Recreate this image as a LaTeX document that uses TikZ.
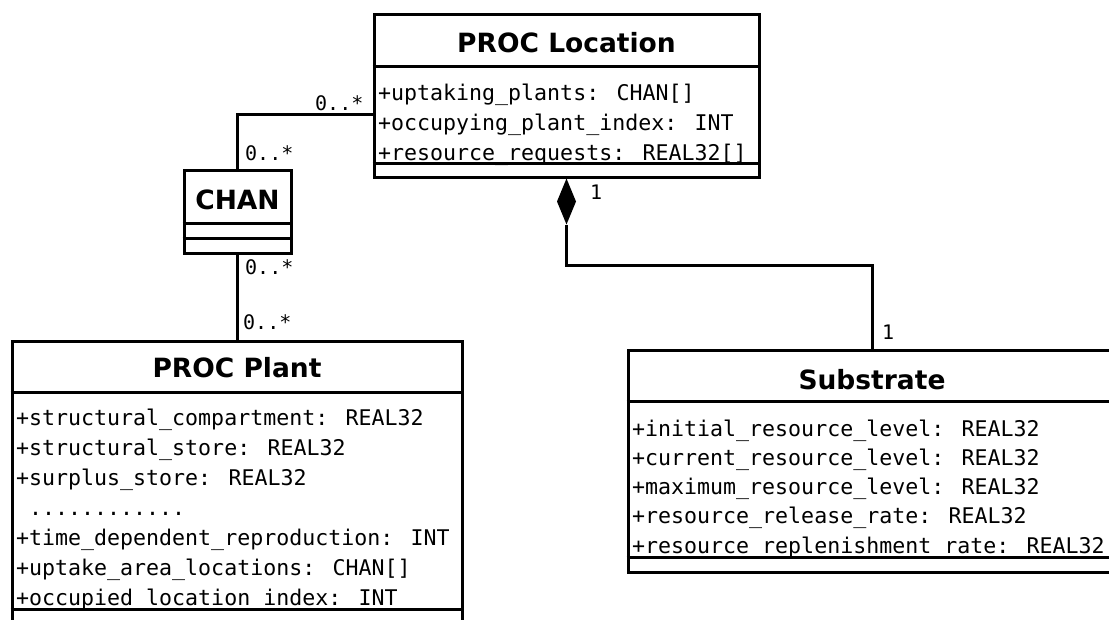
\documentclass[tikz,border=0pt]{standalone}
\usepackage{fontspec}
\usetikzlibrary{positioning, shapes.geometric}
\newfontfamily\umlsans{DejaVu Sans}
\newfontfamily\umlmono{DejaVu Sans Mono}
\tikzset{
  classbox/.style={draw, line width=3pt, inner sep=0pt},
  classline/.style={line width=3pt},
  classname/.style={font=\umlsans\bfseries\fontsize{26.5}{30}\selectfont, inner sep=0pt},
  attr/.style={font=\umlmono\fontsize{21.6}{30}\selectfont, anchor=base west, inner sep=0pt},
  mult/.style={font=\umlmono\fontsize{20}{24}\selectfont, anchor=base west, inner sep=0pt},
  composition/.style={diamond, fill, inner sep=0pt, outer sep=0pt, minimum width=19, minimum height=46},
}

\begin{document}
\begin{tikzpicture}[x=1pt, y=-1pt]
\useasboundingbox (0,0) rectangle (1109,619);
\clip (0,0) rectangle (1109,619);
% Draw PROC Location class
\node[classbox, minimum width=385, minimum height=163] (loc) at (566.5,95.5) {};
\node[classname] (locname) at (566.5,42.5) {PROC Location};
\draw[classline] (loc.west |- 0,66) -- (loc.east |- 0,66);
\draw[classline] (loc.west |- 0,163) -- (loc.east |- 0,163);
\node[attr] (locattra) at (378,100) {+uptaking\_plants: CHAN[]};
\node[attr] (locattrb) at (378,130) {+occupying\_plant\_index: INT};
\node[attr] (locattrc) at (378,160) {+resource\_requests: REAL32[]};
% Draw CHAN class
\node[classbox, minimum width=107, minimum height=83] (chan) at (237.5,211.5) {};
\node[classname] (channame) at (237.5,200) {CHAN};
\draw[classline] (chan.west |- 0,223) -- (chan.east |- 0,223);
\draw[classline] (chan.west |- 0,238) -- (chan.east |- 0,238);
% Draw PROC Plant class
\node[classbox, minimum width=450, minimum height=282] (plant) at (237,482) {};
\node[classname] (plantname) at (237,368) {PROC Plant};
\draw[classline] (plant.west |- 0,392) -- (plant.east |- 0,392);
\draw[classline] (plant.west |- 0,609) -- (plant.east |- 0,609);
\node[attr] (plantattra) at (16,425) {+structural\_compartment: REAL32};
\node[attr] (plantattrb) at (16,455) {+structural\_store: REAL32};
\node[attr] (plantattrc) at (16,485) {+surplus\_store: REAL32};
\node[attr] (plantdots) at (16,515) {\ ............};
\node[attr] (plantattrd) at (16,545) {+time\_dependent\_reproduction: INT};
\node[attr] (plantattre) at (16,575) {+uptake\_area\_locations: CHAN[]};
\node[attr] (plantattrf) at (16,605) {+occupied\_location\_index: INT};
% Draw Substrate class
\node[classbox, minimum width=488, minimum height=222] (subs) at (872,461) {};
\node[classname] (subsname) at (872,380) {Substrate};
\draw[classline] (subs.west |- 0,401) -- (subs.east |- 0,401);
\draw[classline] (subs.west |- 0,557) -- (subs.east |- 0,557);
\node[attr] (subsattra) at (632,436) {+initial\_resource\_level: REAL32};
\node[attr] (subsattrb) at (632,465) {+current\_resource\_level: REAL32};
\node[attr] (subsattrc) at (632,494) {+maximum\_resource\_level: REAL32};
\node[attr] (subsattrd) at (632,523) {+resource\_release\_rate: REAL32};
\node[attr] (subsattre) at (632,553) {+resource\_replenishment\_rate: REAL32};
% Associations through CHAN
\coordinate (locport) at (loc.west |- 0,114);
\draw[classline] (locport) -| (chan.north);
\draw[classline] (chan.south) -- (chan.south |- plant.north);
\node[mult] (multloc) at (315,110) {0..*};
\node[mult] (multchantop) at (245,160) {0..*};
\node[mult] (multchanbot) at (245,274) {0..*};
\node[mult] (multplant) at (243,329) {0..*};
% Composition to Substrate
\node[composition, below=0pt of loc] (comp) {};
\draw[classline] (comp.south) -- (comp.south |- 0,265) -| (subs.north);
\node[mult] (multcomp) at (590,199) {1};
\node[mult] (multsubs) at (882,339) {1};
\end{tikzpicture}
\end{document}
